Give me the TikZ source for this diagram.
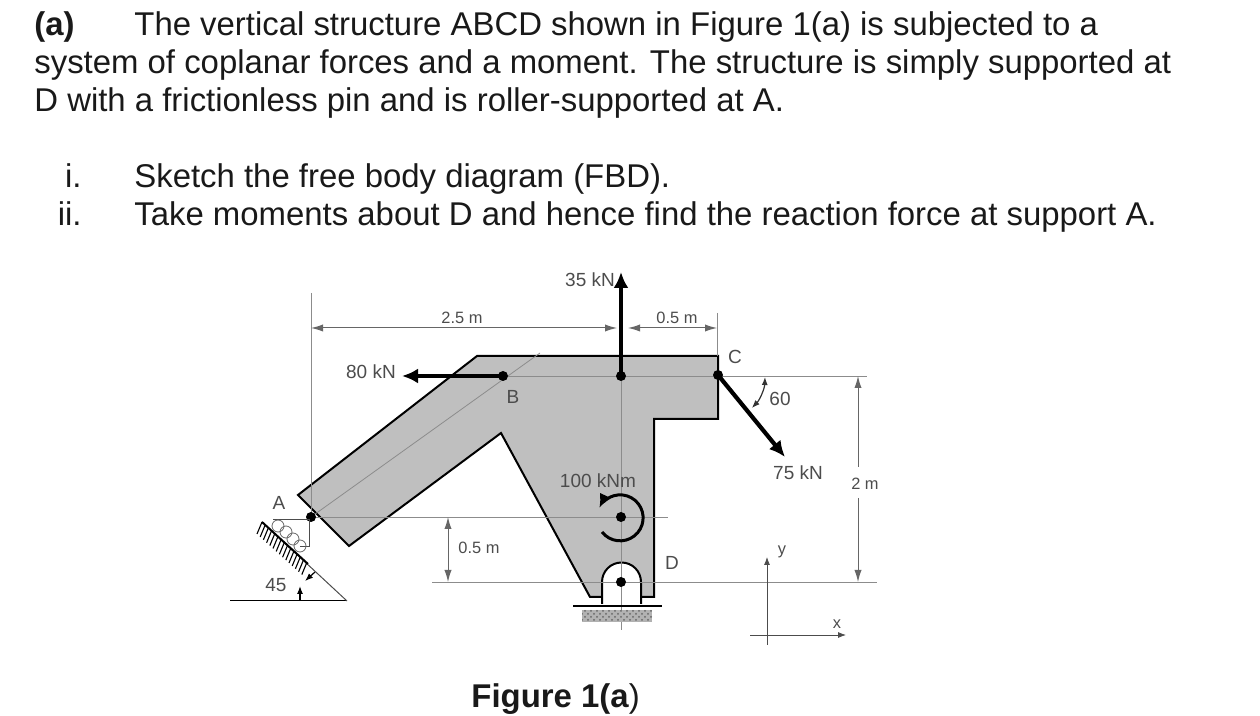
\documentclass[tikz,border=0pt]{standalone}
\usepackage{fontspec}
\setmainfont{Liberation Sans}
\usetikzlibrary{arrows.meta,patterns}

\tikzset{
  para/.style={anchor=base west, inner sep=0, font=\fontsize{16.45}{18}\selectfont, text=black!90},
  lab/.style={inner sep=0, font=\fontsize{9.5}{10}\selectfont, text=black!70},
  dimlab/.style={inner sep=0, font=\fontsize{8.2}{9}\selectfont, text=black!70},
  thinline/.style={draw=black!45, line width=0.4pt},
  dimline/.style={draw=black!60, line width=0.5pt, {Latex[length=6pt,width=3.6pt]}-{Latex[length=6pt,width=3.6pt]}},
  force/.style={draw=black, line width=2.1pt, -{Latex[length=8pt,width=7.5pt]}},
  pin/.style={circle, fill=black, inner sep=0, minimum size=5pt},
  body/.style={draw=black, line width=1pt, fill=black!25, line join=miter},
}

\begin{document}
\begin{tikzpicture}[x=0.5pt, y=-0.5pt]
  \useasboundingbox (0,0) rectangle (1260,716);

  % question text
  \node[para, font=\fontsize{16.45}{18}\selectfont\bfseries] (qa) at (34,36) {(a)};
  \node[para] (q1) at (134,36) {The vertical structure ABCD shown in Figure 1(a) is subjected to a};
  \node[para] (q2) at (34,74) {system of coplanar forces and a moment. The structure is simply supported at};
  \node[para] (q3) at (34,112) {D with a frictionless pin and is roller-supported at A.};
  \node[para, anchor=base east] (ni) at (82,188) {i.};
  \node[para] (si) at (134,188) {Sketch the free body diagram (FBD).};
  \node[para, anchor=base east] (nii) at (82,226) {ii.};
  \node[para] (sii) at (134,226) {Take moments about D and hence find the reaction force at support A.};

  % structure
  \draw[body] (477,356) -- (298,495) -- (349,546) -- (501,433) -- (590,597) -- (602,597)
     -- (641,597) -- (654,597) -- (654,419) -- (718,419) -- (718,356) -- cycle;
  \draw[draw=black, line width=1pt, fill=white] (602,604) -- (602,582) arc[start angle=180, end angle=360, radius=19.5] -- (641,604);

  % points
  \coordinate (A) at (311,517);
  \coordinate (B) at (503,376);
  \coordinate (T) at (621,376);
  \coordinate (C) at (718,375);
  \coordinate (M) at (621,517);
  \coordinate (D) at (621,582);
  \coordinate (armend) at (540,353);
  \coordinate (R1) at (867,376);
  \coordinate (R2) at (668,517);
  \coordinate (R3) at (877,582);
  \coordinate (L3) at (432,582);
  \coordinate (Vb) at (621,630);
  \coordinate (Lt) at (311,293);
  \coordinate (Ct) at (717,313);
  \coordinate (Ctb) at (717,356);

  % thin construction lines
  \draw[thinline] (B) -- (R1);
  \draw[thinline] (A) -- (R2);
  \draw[thinline] (L3) -- (R3);
  \draw[thinline] (T) -- (Vb);
  \draw[thinline] (A) -- (armend);
  \draw[thinline] (Lt) -- (A);
  \draw[thinline] (Ct) -- (Ctb);

  % base of pin D
  \draw[line width=1.2pt] (573,606) coordinate (pl) -- (662,606) coordinate (pr);
  \fill[black!30] (582,610) rectangle (652,622);
  \fill[pattern=crosshatch dots, pattern color=black!60] (582,610) rectangle (652,622);

  % forces
  \coordinate (F35) at (621,272);
  \coordinate (F80) at (402,376);
  \coordinate (F75) at (785,457);
  \draw[force] (T) -- (F35);
  \draw[force] (B) -- (F80);
  \draw[force] (C) -- (F75);
  \draw[line width=1.5pt, -{Latex[length=7pt,width=6pt]}] (602,532) arc[start angle=142, end angle=-155, radius=23];

  % pins on top
  \node[pin] (pA) at (A) {};
  \node[pin] (pB) at (B) {};
  \node[pin] (pT) at (T) {};
  \node[pin] (pC) at (C) {};
  \node[pin] (pM) at (M) {};
  \node[pin] (pD) at (D) {};

  % dimensions
  \coordinate (d1) at (311,328);
  \coordinate (d2) at (617,328);
  \coordinate (d3) at (628,328);
  \coordinate (d4) at (717,328);
  \draw[dimline] (d1) -- (d2);
  \draw[dimline] (d3) -- (d4);
  \coordinate (d5) at (448,517);
  \coordinate (d6) at (448,582);
  \draw[dimline] (d5) -- (d6);
  \coordinate (d7) at (858,376);
  \coordinate (d8) at (858,467);
  \coordinate (d9) at (858,498);
  \coordinate (d10) at (858,582);
  \draw[dimline, {Latex[length=6pt,width=3.6pt]}-] (d7) -- (d8);
  \draw[dimline, -{Latex[length=6pt,width=3.6pt]}] (d9) -- (d10);

  % angle at C
  \draw[black!80, line width=0.6pt, {Latex[length=4pt,width=3pt]}-{Latex[length=4pt,width=3pt]}] (765,377) arc[start angle=2, end angle=44, radius=47];

  % roller support A
  \coordinate (f1) at (273,520);
  \coordinate (f2) at (309,520);
  \coordinate (f3) at (309,547);
  \draw[black!70, line width=0.5pt] (f1) -- (f2) -- (f3) -- (300,547);
  \foreach \cx/\cy in {278/526, 286/532, 293/539, 300/546}
    \draw[black!60, line width=0.4pt] (\cx,\cy) circle[radius=6];
  \coordinate (in1) at (262,522);
  \coordinate (in2) at (347,601);
  \coordinate (in3) at (230,601);
  \draw[black, line width=0.5pt] (in2) -- (in3);
  \draw[black!70, line width=0.5pt] (in1) -- (in2);
  \draw[black, line width=1pt] (in1) -- (308,564);
  \foreach \k in {0,...,14}
    \draw[black, line width=0.55pt] ({262+\k*3.2},{522+\k*2.9}) -- ++(-5,12);

  % angle at the incline
  \draw[black, line width=0.6pt, -{Latex[length=4pt,width=3pt]}] (300,601) -- (300,586);
  \draw[black, line width=0.6pt, -{Latex[length=4pt,width=3pt]}] (315,572) -- (305,581);

  % axes
  \coordinate (oy) at (767,557);
  \coordinate (ox1) at (846,635);
  \coordinate (ox0) at (750,635);
  \coordinate (oy0) at (767,645);
  \draw[black!70, line width=0.4pt, -{Latex[length=4pt,width=3pt]}] (oy0) -- (oy);
  \draw[black!70, line width=0.4pt, -{Latex[length=4pt,width=3pt]}] (ox0) -- (ox1);

  % labels
  \node[lab] (l35) at (590,280) {35 kN};
  \node[lab] (l80) at (371,372) {80 kN};
  \node[dimlab] (l25) at (462,318) {2.5 m};
  \node[dimlab] (l05a) at (677,318) {0.5 m};
  \node[dimlab] (l05b) at (479,548) {0.5 m};
  \node[lab] (lB) at (513,397) {B};
  \node[lab] (lA) at (279,503) {A};
  \node[lab] (l45) at (276,585) {45};
  \node[lab] (lC) at (735,357) {C};
  \node[lab] (l60) at (780,399) {60};
  \node[lab] (l75) at (798,473) {75 kN};
  \node[dimlab] (l2) at (865,484) {2 m};
  \node[lab] (lD) at (672,563) {D};
  \node[lab] (l100) at (598,481) {100 kNm};
  \node[dimlab] (ly) at (782,552) {y};
  \node[dimlab] (lx) at (837,624) {x};

  % caption
  \node[para, font=\fontsize{16.45}{18}\selectfont] (cap) at (471,708) {\textbf{Figure 1(a})};
\end{tikzpicture}
\end{document}
